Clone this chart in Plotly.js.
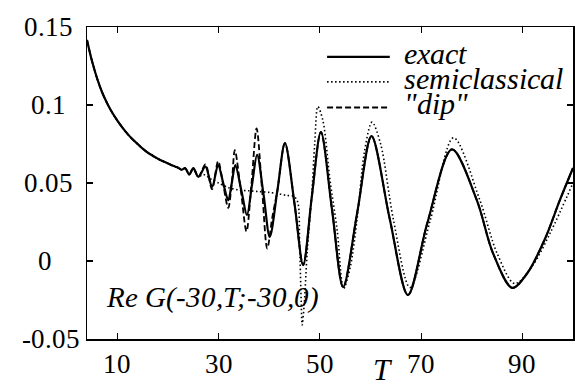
<!DOCTYPE html>
<html>
<head>
<meta charset="utf-8">
<script src="https://cdn.plot.ly/plotly-3.0.1.min.js"></script>
<style>
@font-face{font-family:'RefSerif';font-style:normal;font-weight:400;src:local('Liberation Serif'),local('LiberationSerif');}
@font-face{font-family:'RefSerif';font-style:italic;font-weight:400;src:local('Liberation Serif Italic'),local('LiberationSerif-Italic');}
html,body{margin:0;padding:0;background:#fff;}
#chart{position:absolute;left:0;top:0;width:575px;height:389px;z-index:2;}
#fontwarm{position:absolute;left:0;top:0;z-index:1;font-size:27px;color:#fff;}
</style>
</head>
<body>
<div id="fontwarm"><span style="font-family:'Liberation Serif'">0.15 10 <i>exact T</i></span> <span style="font-family:RefSerif">0.15 <i>exact T</i></span></div>
<div id="chart"></div>
<script>
// ---- data ----
var exactT = [4,5,6,7,8,9,10,11,12,13,14,15,16,17,18,19,20,21,22,22.7,23.4,24.2,25,26,27.4,28.7,29.9,30.9,31.9,32.6,33.3,34.5,35.6,36.6,37.6,38.9,40.1,41.6,43.1,45,46.7,48.4,50.2,52.4,54.6,57.4,60.2,63.8,67.4,71.2,76.1,81,84.2,88,91,94.5,97.4,100];
var exactV = [0.1417,0.128,0.117,0.108,0.101,0.095,0.090,0.0855,0.0815,0.078,0.075,0.072,0.0695,0.0675,0.0655,0.064,0.0625,0.061,0.0598,0.0585,0.0595,0.0555,0.0595,0.054,0.0605,0.0474,0.0615,0.050,0.039,0.050,0.0615,0.045,0.0295,0.049,0.068,0.042,0.0154,0.045,0.0756,0.0365,-0.0026,0.041,0.0827,0.033,-0.0167,0.0315,0.080,0.027,-0.0218,0.024,0.0715,0.039,0.005,-0.0172,-0.0077,0.0145,0.039,0.0596];

var semiT = [4,5,6,7,8,9,10,11,12,13,14,15,16,17,18,19,20,21,22,22.7,23.4,24.2,25,26,27,28.5,30,32,34,36,38,40,42,43.5,44.8,45.6,46.0,46.3,46.5,46.9,47.5,48.4,49,49.6,50.6,52,53.4,54.7,56,57.5,58.8,60.3,62,64.5,67.8,71.8,76.4,81.6,85,88.5,92,95.5,100];
var semiV = [0.1417,0.128,0.117,0.108,0.101,0.095,0.090,0.0855,0.0815,0.078,0.075,0.072,0.0695,0.0675,0.0655,0.064,0.0625,0.061,0.0598,0.0585,0.0595,0.0555,0.0595,0.054,0.0555,0.0525,0.050,0.047,0.0455,0.045,0.0445,0.044,0.043,0.042,0.0415,0.038,0.010,-0.025,-0.041,-0.028,0.006,0.043,0.076,0.099,0.090,0.052,0.020,-0.0175,-0.004,0.031,0.070,0.089,0.075,0.027,-0.017,0.026,0.079,0.039,0.005,-0.0145,-0.003,0.018,0.050];

var dipT = [4,5,6,7,8,9,10,11,12,13,14,15,16,17,18,19,20,21,22,22.7,23.4,24.2,25,26,27.4,28.7,29.9,30.9,31.9,32.6,33.2,34.4,35.5,36.5,37.5,38.6,39.6,40.6,41.6,43.1,45,46.7,48.4,50.2,52.4,54.6,57.4,60.2,63.8,67.4,71.2,76.1,81,84.2,88,91,94.5,97.4,100];
var dipV = [0.1417,0.128,0.117,0.108,0.101,0.095,0.090,0.0855,0.0815,0.078,0.075,0.072,0.0695,0.0675,0.0655,0.064,0.0625,0.061,0.0598,0.0585,0.0595,0.0555,0.0595,0.054,0.062,0.046,0.064,0.049,0.034,0.050,0.071,0.045,0.019,0.050,0.085,0.045,0.008,0.028,0.045,0.0756,0.0365,-0.0026,0.041,0.0827,0.033,-0.0167,0.0315,0.080,0.027,-0.0218,0.024,0.0715,0.039,0.005,-0.0172,-0.0077,0.0145,0.039,0.0596];

var seriesNames = ['exact', 'semiclassical', '"dip"'];
var xTicks = [10, 30, 50, 70, 90];
var xTickLabels = ['10', '30', '50', '70', '90'];
var yTicks = [-0.05, 0, 0.05, 0.1, 0.15];
var yTickLabels = ['-0.05', '0', '0.05', '0.1', '0.15'];
var panelLabel = 'Re G(-30,T;-30,0)';
var xTitle = 'T';

// ---- styling ----
var FONT = "RefSerif, 'Liberation Serif', serif";
var NB = '\u00a0';
var yPad = {'-0.05': '', '0': NB+NB+NB+NB, '0.05': NB, '0.1': NB+NB, '0.15': NB};
var yText = yTickLabels.map(function(s){ return s + yPad[s]; });

function buildTraces(){
  return [
    {x: semiT, y: semiV, mode: 'lines', name: seriesNames[1], showlegend: false,
     line: {color: '#000', width: 1.6, dash: '1.5px,2.5px', shape: 'spline', smoothing: 0.9}},
    {x: dipT, y: dipV, mode: 'lines', name: seriesNames[2], showlegend: false,
     line: {color: '#000', width: 1.8, dash: '6px,3px', shape: 'spline', smoothing: 0.9}},
    {x: exactT, y: exactV, mode: 'lines', name: seriesNames[0], showlegend: false,
     line: {color: '#000', width: 2.2, shape: 'spline', smoothing: 0.9}}
  ];
}

function buildLayout(){
  var legY = [0.904, 0.824, 0.742];
  var legDash = ['solid', '1.5px,2.5px', '6px,3px'];
  var legW = [2.2, 1.6, 1.8];
  var order = [0, 1, 2];
  var shapes = order.map(function(i){
    return {type: 'line', xref: 'paper', yref: 'paper', x0: 0.494, x1: 0.623, y0: legY[i], y1: legY[i],
            line: {color: '#000', width: legW[i], dash: legDash[i]}};
  });
  var annotations = order.map(function(i){
    return {xref: 'paper', yref: 'paper', x: 0.648, y: legY[i] + 0.012, xanchor: 'left', yanchor: 'middle',
            text: '<i>' + seriesNames[i] + '</i>', showarrow: false,
            font: {family: FONT, size: 30, color: '#000'}};
  });
  annotations.push({xref: 'paper', yref: 'paper', x: 0.034, y: 0.135, xanchor: 'left', yanchor: 'middle',
    text: '<i>' + panelLabel + '</i>', showarrow: false, font: {family: FONT, size: 29, color: '#000'}});
  annotations.push({xref: 'paper', yref: 'paper', x: 0.609, y: -0.160, xanchor: 'center', yanchor: 'bottom',
    text: '<i>' + xTitle + '</i>', showarrow: false, font: {family: FONT, size: 31, color: '#000'}});
  return {
    width: 575, height: 389,
    margin: {l: 87, r: 2, t: 27, b: 50, pad: 0},
    paper_bgcolor: '#fff', plot_bgcolor: '#fff',
    showlegend: false,
    font: {family: FONT, size: 27, color: '#000'},
    xaxis: {range: [4, 100], tickvals: xTicks, ticktext: xTickLabels, ticks: 'inside', ticklen: 6,
            tickwidth: 1.2, tickcolor: '#000', showline: true, linecolor: '#000', linewidth: 1.5,
            mirror: 'allticks', showgrid: false, zeroline: false, tickfont: {family: FONT, size: 27}},
    yaxis: {range: [-0.05, 0.15], tickvals: yTicks, ticktext: yText, ticks: 'inside', ticklen: 6,
            tickwidth: 1.2, tickcolor: '#000', showline: true, linecolor: '#000', linewidth: 1.5,
            mirror: 'allticks', showgrid: false, zeroline: false, tickfont: {family: FONT, size: 27}},
    shapes: shapes,
    annotations: annotations
  };
}

function draw(){
  Plotly.newPlot('chart', buildTraces(), buildLayout(), {staticPlot: true, displayModeBar: false});
}

document.getElementById('fontwarm').getBoundingClientRect();
draw();
if (document.fonts && document.fonts.load) {
  Promise.all([document.fonts.load('27px RefSerif'), document.fonts.load('italic 27px RefSerif')])
    .then(function(){ draw(); }, function(){});
}
setTimeout(draw, 60);
</script>
</body>
</html>
